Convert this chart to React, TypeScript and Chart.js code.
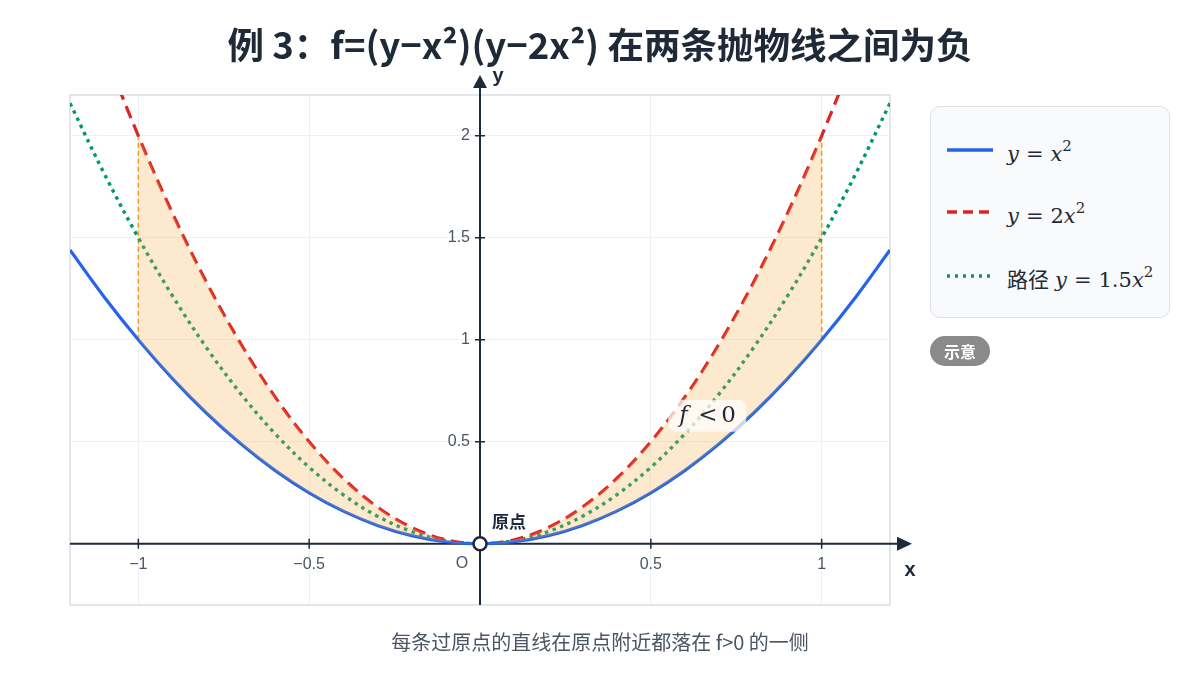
import React, { useEffect, useRef } from "react";
import { Chart, registerables } from "chart.js";

Chart.register(...registerables);

// ---- data ----
const xs = [-1.2, -1.1, -1.0, -0.9, -0.8, -0.7, -0.6, -0.5, -0.4, -0.3, -0.2, -0.1, 0, 0.1, 0.2, 0.3, 0.4, 0.5, 0.6, 0.7, 0.8, 0.9, 1.0, 1.1, 1.2];
const yX2 = [1.44, 1.21, 1.0, 0.81, 0.64, 0.49, 0.36, 0.25, 0.16, 0.09, 0.04, 0.01, 0, 0.01, 0.04, 0.09, 0.16, 0.25, 0.36, 0.49, 0.64, 0.81, 1.0, 1.21, 1.44];
const y2X2 = [2.88, 2.42, 2.0, 1.62, 1.28, 0.98, 0.72, 0.5, 0.32, 0.18, 0.08, 0.02, 0, 0.02, 0.08, 0.18, 0.32, 0.5, 0.72, 0.98, 1.28, 1.62, 2.0, 2.42, 2.88];
const y15X2 = [2.16, 1.815, 1.5, 1.215, 0.96, 0.735, 0.54, 0.375, 0.24, 0.135, 0.06, 0.015, 0, 0.015, 0.06, 0.135, 0.24, 0.375, 0.54, 0.735, 0.96, 1.215, 1.5, 1.815, 2.16];
const regionStart = 2; // x = -1
const regionEnd = 22; // x = 1
const xTicks = [-1, -0.5, 0.5, 1];
const xTickLabels = ["−1", "−0.5", "0.5", "1"];
const yTicks = [0.5, 1, 1.5, 2];
const yTickLabels = ["0.5", "1", "1.5", "2"];
const xRange = [-1.2, 1.2];
const yRange = [-0.3, 2.2];
const boundaryX = [-1, 1];
const labelPos = { x: 0.665, y: 0.628 };

const TITLE = "例 3：f=(y−x²)(y−2x²) 在两条抛物线之间为负";
const FOOTER = "每条过原点的直线在原点附近都落在 f>0 的一侧";

const pts = (ys: number[], a = 0, b = xs.length - 1) =>
  xs.slice(a, b + 1).map((x, i) => ({ x, y: ys[a + i] }));

const SANS = '"Noto Sans CJK SC", "Noto Sans", Inter, sans-serif';
const TICKF = '"Liberation Sans", Arial, sans-serif';
const MATH = '"DejaVu Serif", "Liberation Serif", serif';

const axesPlugin = {
  id: "axesPlugin",
  beforeDatasetsDraw(chart: any) {
    const { ctx, chartArea: ca, scales } = chart;
    const sx = scales.x, sy = scales.y;
    const ox = sx.getPixelForValue(0), oy = sy.getPixelForValue(0);
    ctx.save();
    // border
    ctx.strokeStyle = "#e3e6ea";
    ctx.lineWidth = 2;
    ctx.strokeRect(ca.left, ca.top, ca.right - ca.left, ca.bottom - ca.top);
    // orange boundary dashed lines
    ctx.strokeStyle = "#f0a020";
    ctx.lineWidth = 1.6;
    ctx.setLineDash([5, 3]);
    boundaryX.forEach((bx) => {
      const px = sx.getPixelForValue(bx);
      ctx.beginPath();
      ctx.moveTo(px, sy.getPixelForValue(bx * bx));
      ctx.lineTo(px, sy.getPixelForValue(2 * bx * bx));
      ctx.stroke();
    });
    ctx.setLineDash([]);
    // axes
    ctx.strokeStyle = "#1e293b";
    ctx.fillStyle = "#1e293b";
    ctx.lineWidth = 2;
    ctx.beginPath();
    ctx.moveTo(ca.left, oy);
    ctx.lineTo(ca.right + 10, oy);
    ctx.moveTo(ox, ca.bottom);
    ctx.lineTo(ox, ca.top - 10);
    ctx.stroke();
    // arrows
    ctx.beginPath();
    ctx.moveTo(ca.right + 22, oy);
    ctx.lineTo(ca.right + 7, oy - 7);
    ctx.lineTo(ca.right + 7, oy + 7);
    ctx.closePath();
    ctx.fill();
    ctx.beginPath();
    ctx.moveTo(ox, ca.top - 20);
    ctx.lineTo(ox - 7, ca.top - 7);
    ctx.lineTo(ox + 7, ca.top - 7);
    ctx.closePath();
    ctx.fill();
    // tick marks
    ctx.lineWidth = 1.5;
    ctx.beginPath();
    xTicks.forEach((t) => {
      const px = sx.getPixelForValue(t);
      ctx.moveTo(px, oy - 5);
      ctx.lineTo(px, oy + 5);
    });
    yTicks.forEach((t) => {
      const py = sy.getPixelForValue(t);
      ctx.moveTo(ox - 5, py);
      ctx.lineTo(ox + 5, py);
    });
    ctx.stroke();
    // tick labels
    ctx.fillStyle = "#4b5563";
    ctx.font = `16px ${TICKF}`;
    ctx.textAlign = "center";
    ctx.textBaseline = "middle";
    xTicks.forEach((t, i) => {
      ctx.fillText(xTickLabels[i], sx.getPixelForValue(t), oy + 21);
    });
    ctx.fillText("O", ox - 18, oy + 20);
    ctx.textAlign = "right";
    yTicks.forEach((t, i) => {
      ctx.fillText(yTickLabels[i], ox - 10, sy.getPixelForValue(t));
    });
    // axis names
    ctx.fillStyle = "#1e293b";
    ctx.font = `bold 20px ${TICKF}`;
    ctx.textAlign = "center";
    ctx.fillText("x", ca.right + 20, oy + 27);
    ctx.fillText("y", ox + 18, ca.top - 19);
    ctx.restore();
  },
  afterDatasetsDraw(chart: any) {
    const { ctx, scales } = chart;
    const sx = scales.x, sy = scales.y;
    const ox = sx.getPixelForValue(0), oy = sy.getPixelForValue(0);
    ctx.save();
    // origin marker
    ctx.beginPath();
    ctx.arc(ox, oy, 6.5, 0, Math.PI * 2);
    ctx.fillStyle = "#ffffff";
    ctx.fill();
    ctx.lineWidth = 2.5;
    ctx.strokeStyle = "#1e293b";
    ctx.stroke();
    // 原点
    ctx.fillStyle = "#1e293b";
    ctx.font = `bold 17px ${SANS}`;
    ctx.textAlign = "left";
    ctx.textBaseline = "middle";
    ctx.fillText("原点", ox + 12, oy - 22);
    // f < 0 label
    const lx = sx.getPixelForValue(labelPos.x);
    const ly = sy.getPixelForValue(labelPos.y);
    const w = 78, h = 32;
    ctx.fillStyle = "rgba(255,255,255,0.72)";
    const r = 8;
    const x0 = lx - w / 2, y0 = ly - h / 2;
    ctx.beginPath();
    ctx.moveTo(x0 + r, y0);
    ctx.arcTo(x0 + w, y0, x0 + w, y0 + h, r);
    ctx.arcTo(x0 + w, y0 + h, x0, y0 + h, r);
    ctx.arcTo(x0, y0 + h, x0, y0, r);
    ctx.arcTo(x0, y0, x0 + w, y0, r);
    ctx.closePath();
    ctx.fill();
    ctx.fillStyle = "#1e293b";
    ctx.textBaseline = "middle";
    ctx.font = `italic 23px ${MATH}`;
    ctx.textAlign = "left";
    ctx.fillText("f", x0 + 11, ly);
    ctx.font = `23px ${MATH}`;
    ctx.fillText("<", x0 + 30, ly);
    ctx.fillText("0", x0 + 53, ly);
    ctx.restore();
  },
};

const gridColor = (ctx: any) => {
  const v = ctx.tick?.value;
  if (v === undefined) return "transparent";
  if (Math.abs(v) < 1e-9 || Math.abs(Math.abs(v) - 1.2) < 1e-9 || Math.abs(v + 0.3) < 1e-9 || Math.abs(v - 2.2) < 1e-9) return "transparent";
  return "#eef1f4";
};

function LegendLine({ color, dash }: { color: string; dash?: string }) {
  return (
    <svg width="48" height="8" style={{ display: "block" }}>
      <line x1="1" y1="4" x2="47" y2="4" stroke={color} strokeWidth="3.4" strokeDasharray={dash} />
    </svg>
  );
}

const mi: React.CSSProperties = { fontStyle: "italic" };
const eq: React.CSSProperties = { margin: "0 7px" };
const sup: React.CSSProperties = { fontSize: 15, verticalAlign: "10px", fontStyle: "normal" };

export default function App() {
  const ref = useRef<HTMLCanvasElement>(null);
  useEffect(() => {
    if (!ref.current) return;
    const chart = new Chart(ref.current, {
      type: "scatter",
      data: {
        datasets: [
          {
            label: "lower",
            data: pts(yX2, regionStart, regionEnd),
            showLine: true,
            borderWidth: 0,
            borderColor: "transparent",
            pointRadius: 0,
            tension: 0.35,
            fill: false,
          },
          {
            label: "upper",
            data: pts(y2X2, regionStart, regionEnd),
            showLine: true,
            borderWidth: 0,
            borderColor: "transparent",
            backgroundColor: "rgba(248,172,64,0.26)",
            pointRadius: 0,
            tension: 0.35,
            fill: "-1",
          },
          {
            label: "y = x²",
            data: pts(yX2),
            showLine: true,
            borderColor: "#2563eb",
            borderWidth: 3.2,
            pointRadius: 0,
            tension: 0.35,
            fill: false,
          },
          {
            label: "y = 2x²",
            data: pts(y2X2),
            showLine: true,
            borderColor: "#dc2626",
            borderWidth: 3.2,
            borderDash: [13, 7],
            pointRadius: 0,
            tension: 0.35,
            fill: false,
          },
          {
            label: "路径 y = 1.5x²",
            data: pts(y15X2),
            showLine: true,
            borderColor: "#059669",
            borderWidth: 3.4,
            borderDash: [3.5, 4.5],
            pointRadius: 0,
            tension: 0.35,
            fill: false,
          },
        ],
      },
      options: {
        animation: false,
        responsive: false,
        maintainAspectRatio: false,
        layout: { padding: { left: 70, right: 310, top: 95, bottom: 70 } },
        plugins: { legend: { display: false }, tooltip: { enabled: false }, title: { display: false } },
        scales: {
          x: {
            type: "linear",
            min: xRange[0],
            max: xRange[1],
            afterBuildTicks: (s: any) => {
              s.ticks = [xRange[0], ...xTicks.slice(0, 2), 0, ...xTicks.slice(2), xRange[1]].map((v) => ({ value: v }));
            },
            afterFit: (s: any) => {
              s.height = 0;
            },
            ticks: { display: false },
            border: { display: false },
            grid: { color: gridColor, drawTicks: false, lineWidth: 1 },
          },
          y: {
            type: "linear",
            min: yRange[0],
            max: yRange[1],
            afterBuildTicks: (s: any) => {
              s.ticks = [yRange[0], 0, ...yTicks, yRange[1]].map((v) => ({ value: v }));
            },
            afterFit: (s: any) => {
              s.width = 0;
            },
            ticks: { display: false },
            border: { display: false },
            grid: { color: gridColor, drawTicks: false, lineWidth: 1 },
          },
        },
      } as any,
      plugins: [axesPlugin],
    });
    return () => chart.destroy();
  }, []);

  return (
    <div style={{ position: "fixed", left: 0, top: 0, width: 1200, height: 675, background: "#ffffff", fontFamily: SANS, overflow: "hidden" }}>
      <canvas ref={ref} width={1200} height={675} style={{ position: "absolute", left: 0, top: 0, width: 1200, height: 675 }} />
      <div style={{ position: "absolute", left: 0, top: 19, width: 1200, textAlign: "center", fontSize: 36.5, fontWeight: 700, color: "#1f2937", lineHeight: "50px", whiteSpace: "nowrap" }}>
        {TITLE}
      </div>
      <div
        style={{
          position: "absolute",
          left: 930,
          top: 106,
          width: 240,
          height: 212,
          border: "1.5px solid #dde1e6",
          borderRadius: 10,
          background: "#f8fafc",
          boxSizing: "border-box",
        }}
      >
        {[
          { c: "#2563eb", d: undefined, top: 29, content: (<><span style={mi}>y</span><span style={eq}>=</span><span style={mi}>x</span><sup style={sup}>2</sup></>) },
          { c: "#dc2626", d: "10 6", top: 91, content: (<><span style={mi}>y</span><span style={eq}>=</span>2<span style={mi}>x</span><sup style={sup}>2</sup></>) },
          { c: "#059669", d: "3 5", top: 155, content: (<><span style={{ fontFamily: SANS, fontSize: 21, marginRight: 6 }}>路径</span><span style={mi}>y</span><span style={eq}>=</span>1.5<span style={mi}>x</span><sup style={sup}>2</sup></>) },
        ].map((it, i) => (
          <div key={i} style={{ position: "absolute", left: 15, top: it.top, height: 28, display: "flex", alignItems: "center" }}>
            <LegendLine color={it.c} dash={it.d} />
            <div style={{ marginLeft: 13, fontFamily: MATH, fontSize: 21, color: "#1f2937", lineHeight: "28px", whiteSpace: "nowrap" }}>{it.content}</div>
          </div>
        ))}
      </div>
      <div
        style={{
          position: "absolute",
          left: 930,
          top: 336,
          width: 60,
          height: 30,
          borderRadius: 15,
          background: "#8a8a8a",
          color: "#ffffff",
          fontWeight: 700,
          fontSize: 16,
          lineHeight: "30px",
          textAlign: "center",
        }}
      >
        示意
      </div>
      <div style={{ position: "absolute", left: 0, top: 629, width: 1200, textAlign: "center", fontSize: 20, color: "#4b5563", lineHeight: "26px", whiteSpace: "nowrap" }}>
        {FOOTER}
      </div>
    </div>
  );
}
